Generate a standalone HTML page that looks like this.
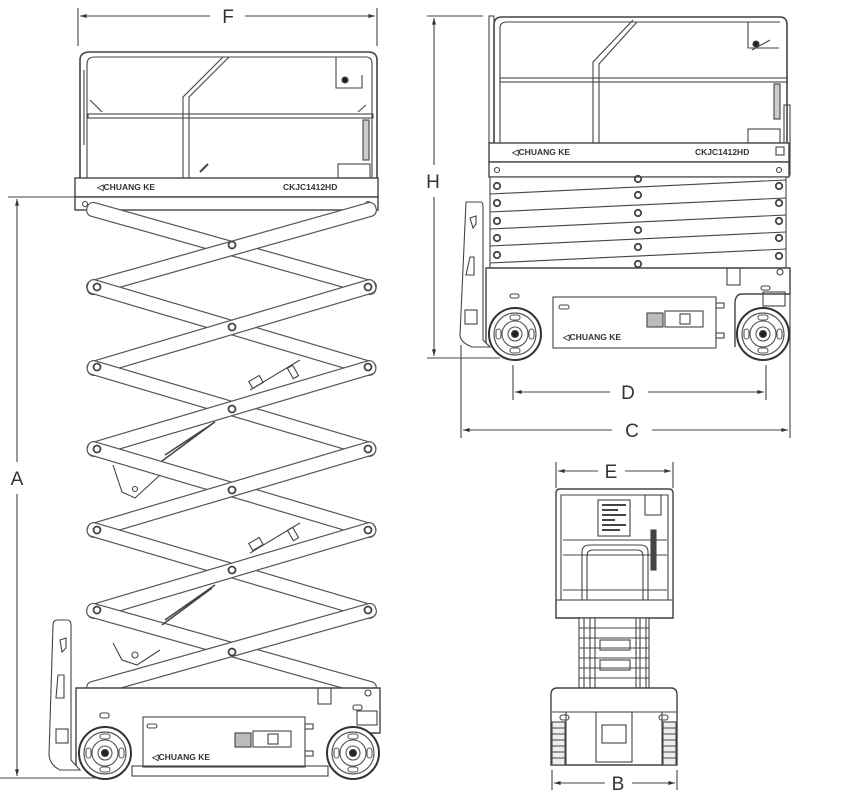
<!DOCTYPE html>
<html><head><meta charset="utf-8"><style>
html,body{margin:0;padding:0;background:#fff;}
svg{display:block;}
text{font-family:"Liberation Sans",sans-serif;}
</style></head><body>
<svg width="843" height="801" viewBox="0 0 843 801" xmlns="http://www.w3.org/2000/svg">
<defs>
<marker id="ar" viewBox="0 0 10 10" refX="10" refY="5" markerWidth="9" markerHeight="6" orient="auto-start-reverse"><path d="M0,2 L10,5 L0,8 z" fill="#333"/></marker>
<g id="beamA"><rect x="-150" y="-7" width="300" height="14" rx="6" fill="#fff" stroke="#555" stroke-width="1.2"/></g>
<g id="wheel"><circle r="26" fill="#fff" stroke="#333" stroke-width="2"/><circle r="21" fill="none" stroke="#555" stroke-width="1.2"/><circle r="13" fill="none" stroke="#555"/><circle r="7" fill="none" stroke="#555"/><circle r="3.5" fill="#222"/>
<rect x="-5" y="-19" width="10" height="5" rx="2.5" fill="none" stroke="#555"/><rect x="-5" y="14" width="10" height="5" rx="2.5" fill="none" stroke="#555"/><rect x="-19" y="-5" width="5" height="10" rx="2.5" fill="none" stroke="#555"/><rect x="14" y="-5" width="5" height="10" rx="2.5" fill="none" stroke="#555"/></g>
</defs>
<g stroke="#444" fill="none" stroke-width="1.1">
<!-- ===== LEFT VIEW ===== -->
<!-- F dim -->
<line x1="78" y1="8" x2="78" y2="46"/><line x1="377" y1="8" x2="377" y2="46"/>
<line x1="80" y1="16" x2="210" y2="16" marker-start="url(#ar)"/><line x1="245" y1="16" x2="375" y2="16" marker-end="url(#ar)"/>
<!-- A dim -->
<line x1="8" y1="197" x2="75" y2="197"/><line x1="8" y1="778" x2="100" y2="778"/>
<line x1="17" y1="199" x2="17" y2="462" marker-start="url(#ar)"/><line x1="17" y1="494" x2="17" y2="776" marker-end="url(#ar)"/>
<!-- platform rails -->
<path d="M80,178 V60 Q80,52 90,52 H368 Q377,52 377,60 V178" stroke-width="1.6"/>
<path d="M87,178 V64 Q87,57 95,57 H366 Q372,57 372,64 V178"/>
<rect x="88" y="114" width="285" height="4"/>
<path d="M223,57 L183,97 V178 M229,57 L189,97 V178"/>
<path d="M84,70 V145 M90,100 L102,112"/>
<path d="M336,57 V88 H362 V75 M366,105 L358,112"/>
<circle cx="345" cy="80" r="3" fill="#222"/>
<rect x="363" y="120" width="6" height="40" fill="#ccc"/>
<rect x="338" y="164" width="32" height="14"/>
<rect x="75" y="178" width="303" height="19" fill="#fff" stroke-width="1.4"/>
<rect x="75" y="197" width="303" height="13" fill="#fff" stroke-width="1.4"/>
<circle cx="85" cy="204" r="2.5"/><circle cx="368" cy="204" r="2.5"/>
<path d="M200,172 l8,-8" stroke-width="2"/>
<!-- scissor left -->
<g transform="translate(231.5,248.5) rotate(15.75)"><use href="#beamA"/></g>
<g transform="translate(231.5,248.5) rotate(-15.75)"><use href="#beamA"/></g>
<g transform="translate(231.5,327.5) rotate(16.5)"><use href="#beamA"/></g>
<g transform="translate(231.5,327.5) rotate(-16.5)"><use href="#beamA"/></g>
<g transform="translate(231.5,408.5) rotate(16.5)"><use href="#beamA"/></g>
<g transform="translate(231.5,408.5) rotate(-16.5)"><use href="#beamA"/></g>
<g transform="translate(231.5,489.5) rotate(16.5)"><use href="#beamA"/></g>
<g transform="translate(231.5,489.5) rotate(-16.5)"><use href="#beamA"/></g>
<g transform="translate(231.5,570.5) rotate(16.5)"><use href="#beamA"/></g>
<g transform="translate(231.5,570.5) rotate(-16.5)"><use href="#beamA"/></g>
<g transform="translate(231.5,649.5) rotate(15.75)"><use href="#beamA"/></g>
<g transform="translate(231.5,649.5) rotate(-15.75)"><use href="#beamA"/></g>
<g stroke-width="1.8">
<circle cx="232" cy="245" r="3.5"/><circle cx="232" cy="327" r="3.5"/><circle cx="232" cy="409" r="3.5"/><circle cx="232" cy="490" r="3.5"/><circle cx="232" cy="570" r="3.5"/><circle cx="232" cy="652" r="3.5"/>
<circle cx="97" cy="287" r="3.5"/><circle cx="368" cy="287" r="3.5"/><circle cx="97" cy="367" r="3.5"/><circle cx="368" cy="367" r="3.5"/><circle cx="97" cy="449" r="3.5"/><circle cx="368" cy="449" r="3.5"/><circle cx="97" cy="530" r="3.5"/><circle cx="368" cy="530" r="3.5"/><circle cx="97" cy="610" r="3.5"/><circle cx="368" cy="610" r="3.5"/>
</g>
<path d="M165,455 L215,422 M162,461 L212,424" stroke-width="1.5"/>
<path d="M165,620 L215,585 M162,625 L212,588" stroke-width="1.5"/>
<path d="M250,390 L300,360 M250,553 L300,523"/>
<rect x="250" y="378" width="12" height="8" transform="rotate(-30 256 382)"/>
<rect x="290" y="366" width="6" height="12" transform="rotate(-30 293 372)"/>
<rect x="250" y="540" width="12" height="8" transform="rotate(-30 256 544)"/>
<rect x="290" y="528" width="6" height="12" transform="rotate(-30 293 534)"/>
<path d="M113,465 L122,492 L135,498 L160,475"/><circle cx="135" cy="489" r="2.5"/>
<path d="M113,643 L122,660 L137,665 L160,650"/><circle cx="135" cy="655" r="3"/>
<!-- chassis left -->
<path d="M76,767 V688 H380 V733 H345 Q330,733 330,748 V767" fill="#fff" stroke-width="1.4"/>
<rect x="143" y="717" width="162" height="50" fill="#fff"/>
<rect x="132" y="766" width="196" height="10"/>
<path d="M53,625 Q53,620 58,620 H67 Q71,620 71,625 V760 L80,770 H60 Q50,765 49,755 Z" fill="#fff"/>
<path d="M60,640 L62,652 L66,648 V638 Z M58,675 L56,698 L64,698 L64,675 Z"/>
<rect x="56" y="729" width="12" height="14"/>
<rect x="100" y="713" width="9" height="5" rx="2"/><rect x="353" y="705" width="9" height="5" rx="2"/><rect x="147" y="724" width="10" height="4" rx="2"/>
<rect x="318" y="688" width="13" height="16"/><rect x="357" y="711" width="20" height="14"/>
<circle cx="368" cy="693" r="3"/>
<rect x="235" y="733" width="16" height="14" fill="#bbb"/><rect x="253" y="731" width="38" height="16"/><rect x="268" y="734" width="10" height="10"/>
<rect x="305" y="724" width="8" height="5"/><rect x="305" y="751" width="8" height="5"/>
<use href="#wheel" x="105" y="753"/><use href="#wheel" x="353" y="753"/>
<line x1="0" y1="778" x2="100" y2="778"/>

<!-- ===== RIGHT VIEW ===== -->
<line x1="427" y1="16" x2="483" y2="16"/><line x1="427" y1="358" x2="500" y2="358"/>
<line x1="434" y1="18" x2="434" y2="165" marker-start="url(#ar)"/><line x1="434" y1="197" x2="434" y2="356" marker-end="url(#ar)"/>
<line x1="513" y1="365" x2="513" y2="400"/><line x1="766" y1="365" x2="766" y2="400"/>
<line x1="515" y1="392" x2="610" y2="392" marker-start="url(#ar)"/><line x1="648" y1="392" x2="764" y2="392" marker-end="url(#ar)"/>
<line x1="461" y1="345" x2="461" y2="438"/><line x1="790" y1="270" x2="790" y2="438"/>
<line x1="463" y1="430" x2="612" y2="430" marker-start="url(#ar)"/><line x1="652" y1="430" x2="788" y2="430" marker-end="url(#ar)"/>
<path d="M494,143 V25 Q494,17 502,17 H780 Q787,17 787,25 V143" stroke-width="1.6"/>
<path d="M500,143 V28 Q500,22 507,22 H780"/>
<rect x="489" y="16" width="5" height="127"/>
<rect x="500" y="78" width="287" height="4"/>
<path d="M633,20 L593,62 V143 M637,22 L599,64 V143"/>
<path d="M748,22 V48 H779 M752,50 L770,40"/><circle cx="756" cy="44" r="3" fill="#222"/>
<rect x="774" y="84" width="6" height="35" fill="#ccc"/>
<rect x="748" y="129" width="32" height="14"/>
<rect x="784" y="105" width="6" height="70"/>
<rect x="489" y="143" width="300" height="19" fill="#fff" stroke-width="1.4"/>
<rect x="489" y="162" width="300" height="15" fill="#fff" stroke-width="1.4"/>
<circle cx="497" cy="170" r="2.5"/><circle cx="779" cy="170" r="2.5"/>
<rect x="776" y="147" width="8" height="8"/>
<rect x="490" y="177" width="296" height="91" fill="#fff"/>
<path d="M490,194 L786,180 M490,212 L786,198 M490,229 L786,215 M490,246 L786,232 M490,263 L786,249"/>
<g stroke-width="1.8">
<circle cx="497" cy="186" r="3.2"/><circle cx="497" cy="203" r="3.2"/><circle cx="497" cy="221" r="3.2"/><circle cx="497" cy="238" r="3.2"/><circle cx="497" cy="255" r="3.2"/>
<circle cx="779" cy="186" r="3.2"/><circle cx="779" cy="203" r="3.2"/><circle cx="779" cy="221" r="3.2"/><circle cx="779" cy="238" r="3.2"/><circle cx="779" cy="256" r="3.2"/>
<circle cx="638" cy="179" r="3.2"/><circle cx="638" cy="195" r="3.2"/><circle cx="638" cy="213" r="3.2"/><circle cx="638" cy="230" r="3.2"/><circle cx="638" cy="247" r="3.2"/><circle cx="638" cy="264" r="3.2"/>
</g>
<path d="M486,347 V268 H790 V294 H742 Q735,294 735,304 V347" fill="#fff" stroke-width="1.4"/>
<rect x="553" y="297" width="163" height="51" fill="#fff"/>
<path d="M466,202 H481 Q483,202 483,207 V340 L490,347 H472 Q460,342 460,335 Z" fill="#fff"/>
<path d="M470,218 L473,228 L476,224 V216 Z M470,257 L466,275 L474,275 L474,257 Z"/>
<rect x="465" y="310" width="12" height="14"/>
<rect x="510" y="294" width="9" height="4" rx="2"/><rect x="761" y="286" width="9" height="4" rx="2"/><rect x="559" y="305" width="10" height="4" rx="2"/>
<rect x="727" y="268" width="13" height="17"/><circle cx="780" cy="272" r="3"/><rect x="763" y="292" width="22" height="14"/>
<rect x="647" y="313" width="16" height="14" fill="#bbb"/><rect x="665" y="311" width="38" height="16"/><rect x="680" y="314" width="10" height="10"/>
<rect x="716" y="303" width="8" height="5"/><rect x="716" y="333" width="8" height="5"/>
<use href="#wheel" x="515" y="334"/><use href="#wheel" x="763" y="334"/>

<!-- ===== FRONT VIEW ===== -->
<line x1="556" y1="462" x2="556" y2="488"/><line x1="673" y1="462" x2="673" y2="488"/>
<line x1="558" y1="471" x2="598" y2="471" marker-start="url(#ar)"/><line x1="625" y1="471" x2="671" y2="471" marker-end="url(#ar)"/>
<line x1="552" y1="770" x2="552" y2="790"/><line x1="677" y1="770" x2="677" y2="790"/>
<line x1="554" y1="783" x2="605" y2="783" marker-start="url(#ar)"/><line x1="632" y1="783" x2="675" y2="783" marker-end="url(#ar)"/>
<path d="M556,618 V493 Q556,489 560,489 H669 Q673,489 673,493 V618 Z" fill="#fff" stroke-width="1.4"/>
<rect x="556" y="600" width="117" height="18"/>
<path d="M561,600 V495 H668 V600"/>
<rect x="598" y="500" width="32" height="36"/>
<path d="M602,505 H626 M602,510 H618 M602,515 H626 M602,520 H615 M602,525 H626 M602,530 H620" stroke-width="2"/>
<rect x="645" y="495" width="16" height="20"/>
<path d="M563,540 H667 M563,555 H667 M563,590 H667"/>
<path d="M582,600 V552 Q582,545 590,545 H640 Q648,545 648,552 V600 M587,600 V556 Q587,550 593,550 H637 Q643,550 643,556 V600"/>
<rect x="651" y="530" width="5" height="40" fill="#444"/>
<rect x="579" y="618" width="70" height="70" fill="#fff"/>
<path d="M584,618 V688 M590,618 V688 M640,618 V688 M646,618 V688 M595,618 V688 M636,618 V688"/>
<path d="M579,628 H649 M579,638 H649 M579,648 H649 M579,658 H649 M579,668 H649 M579,678 H649"/>
<rect x="600" y="640" width="30" height="10"/><rect x="600" y="660" width="30" height="10"/>
<path d="M551,765 V695 Q551,688 557,688 H671 Q677,688 677,695 V765 Z" fill="#fff" stroke-width="1.4"/>
<path d="M551,712 H677 M566,712 V765 M662,712 V765"/>
<rect x="596" y="712" width="36" height="50"/><rect x="602" y="725" width="24" height="18"/>
<rect x="560" y="715" width="9" height="5" rx="2.5"/><rect x="659" y="715" width="9" height="5" rx="2.5"/>
<rect x="552" y="722" width="13" height="43" fill="#eee"/><rect x="663" y="722" width="13" height="43" fill="#eee"/>
<path d="M552,728 H565 M552,734 H565 M552,740 H565 M552,746 H565 M552,752 H565 M552,758 H565 M663,728 H676 M663,734 H676 M663,740 H676 M663,746 H676 M663,752 H676 M663,758 H676"/>
</g>
<g fill="#333" font-weight="bold" font-size="8.5">
<text x="97" y="190">◁CHUANG KE</text><text x="283" y="190">CKJC1412HD</text>
<text x="512" y="155">◁CHUANG KE</text><text x="695" y="155">CKJC1412HD</text>
<text x="152" y="760">◁CHUANG KE</text><text x="563" y="340">◁CHUANG KE</text>
</g>
<g fill="#333" font-size="19" text-anchor="middle">
<text x="228" y="23">F</text><text x="17" y="485">A</text>
<text x="433" y="188">H</text><text x="628" y="399">D</text><text x="632" y="437">C</text>
<text x="611" y="478">E</text><text x="618" y="790">B</text>
</g>
</svg>
</body></html>
